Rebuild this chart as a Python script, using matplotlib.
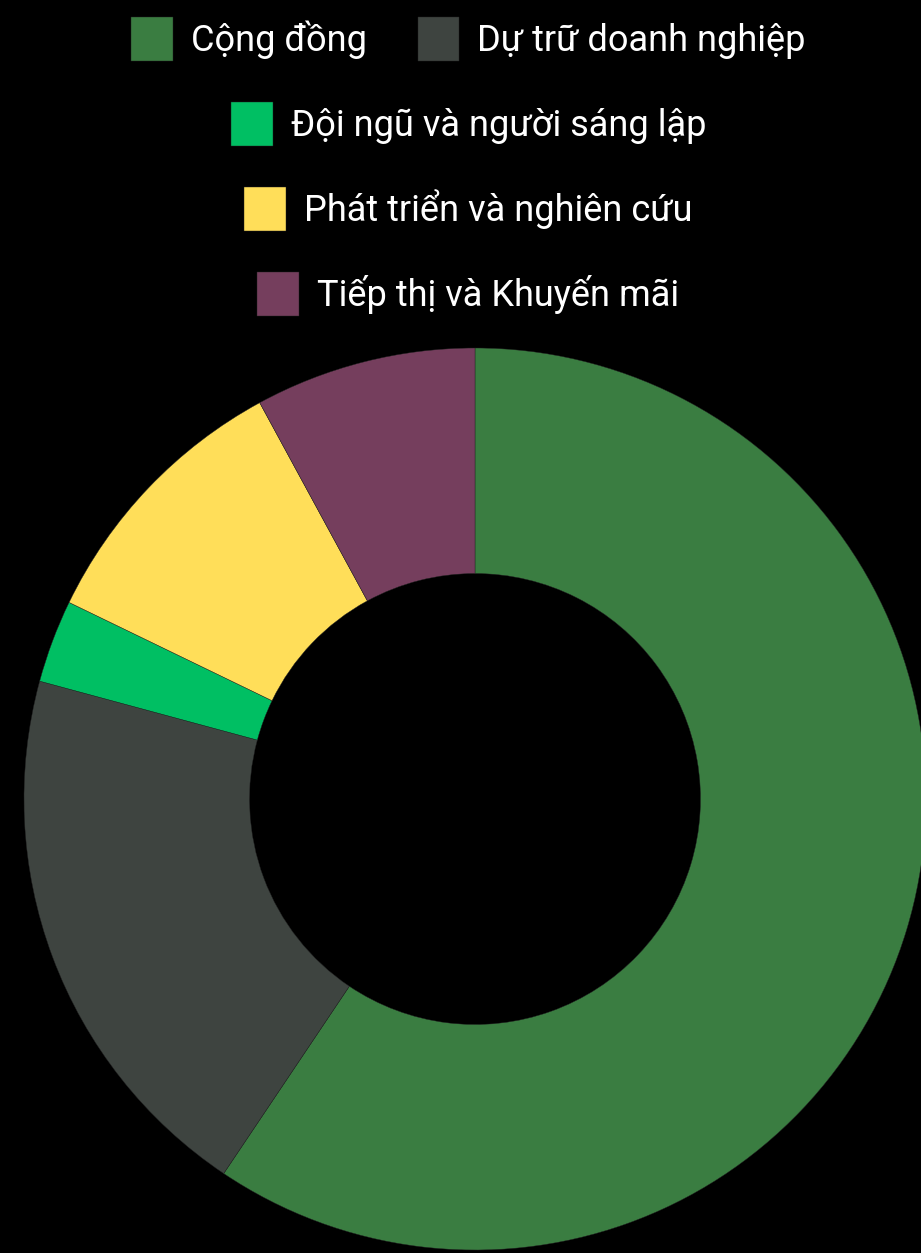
import matplotlib.pyplot as plt

plt.rcParams['font.family'] = ['Roboto', 'DejaVu Sans']

labels = ['Cộng đồng', 'Dự trữ doanh nghiệp', 'Đội ngũ và người sáng lập',
          'Phát triển và nghiên cứu', 'Tiếp thị và Khuyến mãi']
values = [60, 20, 3, 10, 8]
colors = ['#3A7D41', '#3E4440', '#00BF63', '#FFDE59', '#753E5D']

# legend rows as in the original (two items on the first line)
legend_rows = [[0, 1], [2], [3], [4]]

W, H = 921, 1253
fig = plt.figure(figsize=(W / 100, H / 100), dpi=100, facecolor='black')

# pie: centre (475, 799) px, radius 451 px
cx, cy, r = 475, 799, 451
ax = fig.add_axes([(cx - r) / W, (H - cy - r) / H, 2 * r / W, 2 * r / H])
ax.set_facecolor('black')
wedges, _ = ax.pie(values, colors=colors, startangle=90, counterclock=False,
                   radius=1, wedgeprops=dict(width=0.5, edgecolor='#222222', linewidth=0.3))
ax.set_xlim(-1, 1)
ax.set_ylim(-1, 1)
ax.set_aspect('equal')
ax.axis('off')

row_y = [39, 124, 209, 294]
for row, y in zip(legend_rows, row_y):
    leg = fig.legend([wedges[i] for i in row], [labels[i] for i in row],
                     loc='center', bbox_to_anchor=(468.5 / W, 1 - y / H),
                     ncol=len(row), frameon=False, fontsize=26,
                     handlelength=1.16, handleheight=1.47, handletextpad=0.5,
                     columnspacing=1.4, borderpad=0, borderaxespad=0)
    for t in leg.get_texts():
        t.set_color('white')

fig.savefig('out.png', dpi=100, facecolor='black')
